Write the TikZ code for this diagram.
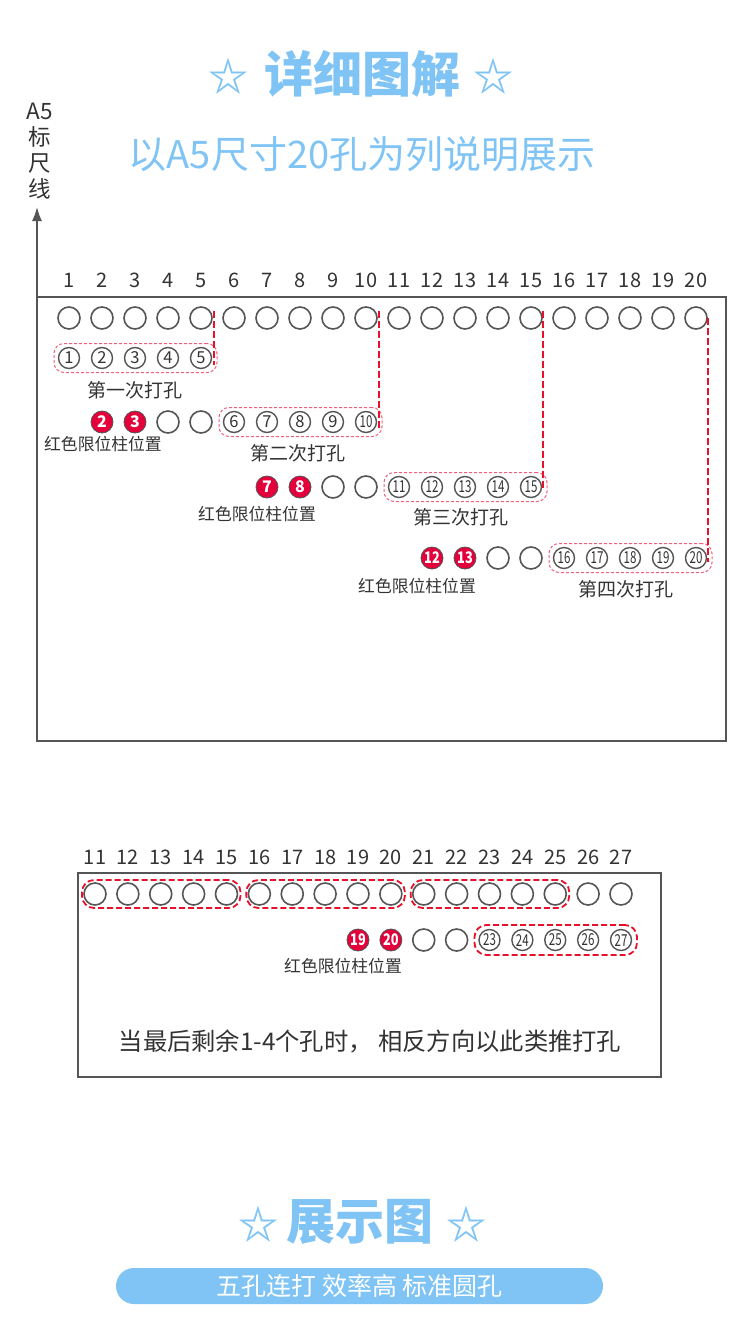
\documentclass[tikz,border=0pt]{standalone}
\usepackage{fontspec}
\setmainfont{Noto Sans CJK SC}
\usetikzlibrary{arrows.meta}
\definecolor{skyb}{HTML}{7FC4F5}
\definecolor{linegray}{HTML}{555555}
\definecolor{txtgray}{HTML}{333333}
\definecolor{pinkd}{HTML}{F0607A}
\definecolor{redd}{HTML}{E8102A}
\definecolor{redfill}{HTML}{E4003B}
\newcommand{\hn}[1]{\ifnum#1>9 \scalebox{0.7}[1]{#1}\else #1\fi}
\newcommand{\hr}[1]{\ifnum#1>9 \scalebox{0.8}[1]{#1}\else #1\fi}
\tikzset{
 hole/.style={circle, draw=linegray, line width=1.6pt, minimum size=22pt, inner sep=0pt},
 numhole/.style={circle, draw=linegray, line width=1.4pt, minimum size=21pt, inner sep=0pt, font=\fontsize{16.5}{16}\selectfont, text=txtgray},
 redhole/.style={circle, draw=linegray, line width=0.8pt, fill=redfill, minimum size=22pt, inner sep=0pt, text=white, font=\bfseries\fontsize{16}{16}\selectfont},
 collab/.style={font=\fontsize{20}{20}\selectfont, text=txtgray},
 lab/.style={font=\fontsize{19}{19}\selectfont, text=txtgray},
 redlab/.style={font=\fontsize{16.8}{17}\selectfont, text=txtgray},
 grpA/.style={draw=pinkd, line width=1pt, dash pattern=on 3pt off 2pt, rounded corners=10pt, minimum height=29pt, inner sep=0pt},
 grpB/.style={draw=redd, line width=1.8pt, dash pattern=on 6pt off 3pt, rounded corners=12pt, minimum height=28pt, inner sep=0pt},
 guide/.style={draw=redd, line width=2pt, dash pattern=on 7pt off 3pt},
 frame/.style={draw=linegray, line width=1.6pt},
 star/.style={text=skyb, font=\bfseries\fontsize{40}{40}\selectfont},
 bigtitle/.style={text=skyb, font=\bfseries\fontsize{49}{49}\selectfont},
}
\begin{document}
\begin{tikzpicture}[x=1pt,y=-1pt]
\useasboundingbox[fill=white] (0,0) rectangle (750,1334);
% titles
\node[star] (s1) at (228,76) {☆};
\node[bigtitle] (title) at (362,74) {详细图解};
\node[star] (s2) at (493,76) {☆};
\node[text=skyb, font=\fontsize{38}{38}\selectfont] (sub) at (362,154) {以A5尺寸20孔为列说明展示};
\node[text=txtgray, font=\fontsize{22.5}{26}\selectfont, align=center] (ruler) at (40,151) {A5\\标\\尺\\线};
% frame and axis
\coordinate (fTL) at (37,297);
\coordinate (fBR) at (726,741);
\coordinate (axTip) at (37,207);
\draw[frame] (fTL) rectangle (fBR);
\draw[frame, -{Latex[length=14pt,width=10pt]}] (fTL) -- (axTip);
% row 1
\foreach \i in {1,...,20} {
  \pgfmathsetmacro\xx{69+(\i-1)*33}
  \node[collab] (n\i) at (\xx,280) {\i};
  \node[hole] (h\i) at (\xx,318) {};
}
% row 2
\foreach \i in {1,...,5} \node[numhole] (p\i) at ({69+(\i-1)*33},358) {\hn{\i}};
% row 3
\foreach \i in {2,3} \node[redhole] (ra\i) at ({69+(\i-1)*33},422) {\hr{\i}};
\foreach \i in {4,5} \node[hole] (ea\i) at ({69+(\i-1)*33},422) {};
\foreach \i in {6,...,10} \node[numhole] (p\i) at ({69+(\i-1)*33},422) {\hn{\i}};
% row 4
\foreach \i in {7,8} \node[redhole] (rb\i) at ({69+(\i-1)*33},487) {\hr{\i}};
\foreach \i in {9,10} \node[hole] (eb\i) at ({69+(\i-1)*33},487) {};
\foreach \i in {11,...,15} \node[numhole] (p\i) at ({69+(\i-1)*33},487) {\hn{\i}};
% row 5
\foreach \i in {12,13} \node[redhole] (rc\i) at ({69+(\i-1)*33},558) {\hr{\i}};
\foreach \i in {14,15} \node[hole] (ec\i) at ({69+(\i-1)*33},558) {};
\foreach \i in {16,...,20} \node[numhole] (p\i) at ({69+(\i-1)*33},558) {\hn{\i}};
% groups
\node[grpA, minimum width=163pt] (g1) at (135.5,358) {};
\node[grpA, minimum width=163pt] (g2) at (300.5,422) {};
\node[grpA, minimum width=163pt] (g3) at (465.5,487) {};
\node[grpA, minimum width=163pt] (g4) at (630.5,558) {};
% guides
\coordinate (v1a) at (213.5,311); \coordinate (v1b) at (213.5,365);
\coordinate (v2a) at (378.5,311); \coordinate (v2b) at (378.5,428);
\coordinate (v3a) at (543,311); \coordinate (v3b) at (543,491);
\coordinate (v4a) at (708,318); \coordinate (v4b) at (708,562);
\draw[guide] (v1a) -- (v1b);
\draw[guide] (v2a) -- (v2b);
\draw[guide] (v3a) -- (v3b);
\draw[guide] (v4a) -- (v4b);
% labels
\node[lab] (l1) at (135,390) {第一次打孔};
\node[redlab] (r1) at (103,444) {红色限位柱位置};
\node[lab] (l2) at (298,453) {第二次打孔};
\node[redlab] (r2) at (257,514) {红色限位柱位置};
\node[lab] (l3) at (461,517) {第三次打孔};
\node[redlab] (r3) at (417,586) {红色限位柱位置};
\node[lab] (l4) at (626,589) {第四次打孔};
% bottom box
\coordinate (bTL) at (78,873);
\coordinate (bBR) at (661,1077);
\draw[frame] (bTL) rectangle (bBR);
\foreach \j in {11,...,27} {
  \pgfmathsetmacro\xx{95+(\j-11)*32.875}
  \node[collab] (m\j) at (\xx,857) {\j};
  \node[hole] (k\j) at (\xx,894) {};
}
\foreach \j in {19,20} \node[redhole] (rd\j) at ({95+(\j-11)*32.875},940) {\hr{\j}};
\foreach \j in {21,22} \node[hole] (ed\j) at ({95+(\j-11)*32.875},940) {};
\foreach \j in {23,...,27} \node[numhole] (q\j) at ({95+(\j-11)*32.875},940) {\hn{\j}};
\node[grpB, minimum width=158.5pt] (G1) at (161.25,894) {};
\node[grpB, minimum width=158.5pt] (G2) at (325.6,894) {};
\node[grpB, minimum width=158.5pt] (G3) at (490,894) {};
\node[grpB, minimum width=162.5pt, minimum height=30pt] (G4) at (555.75,940) {};
\node[redlab] (r4) at (343,966) {红色限位柱位置};
\node[text=txtgray, font=\fontsize{24.3}{25}\selectfont] (note) at (370,1041) {当最后剩余1-4个孔时，\ 相反方向以此类推打孔};
% bottom title
\node[star] (s3) at (258,1224) {☆};
\node[bigtitle] (title2) at (360,1222) {展示图};
\node[star] (s4) at (466,1224) {☆};
\node[fill=skyb, rounded corners=18pt, minimum width=487pt, minimum height=36pt, inner sep=0pt, text=white, font=\fontsize{25}{25}\selectfont] (pill) at (359.5,1286) {五孔连打 效率高 标准圆孔};
\end{tikzpicture}
\end{document}
